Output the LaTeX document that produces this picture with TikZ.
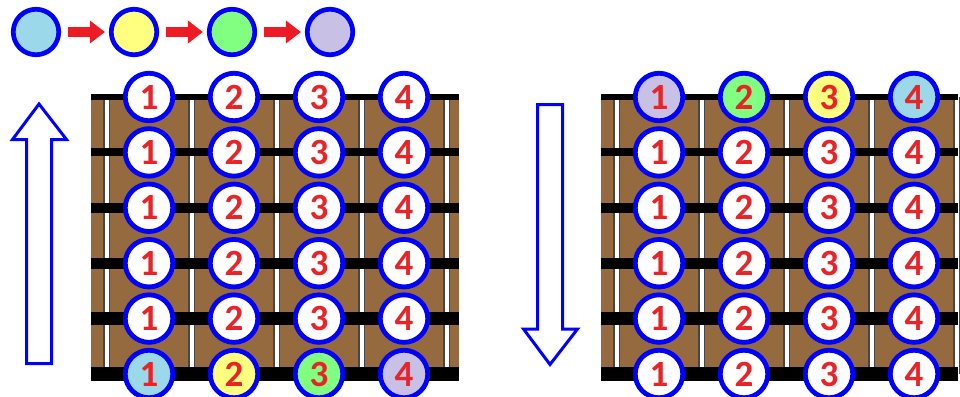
\documentclass[tikz,border=0pt]{standalone}
\usepackage{fontspec}
\setmainfont{Carlito}
\usetikzlibrary{arrows.meta}
\definecolor{cblue}{RGB}{155,216,234}
\definecolor{cyellow}{RGB}{255,255,128}
\definecolor{cgreen}{RGB}{128,255,128}
\definecolor{cpurple}{RGB}{200,193,229}
\definecolor{numred}{RGB}{232,36,40}
\definecolor{arrred}{RGB}{237,28,36}
\definecolor{boardbrown}{RGB}{148,106,62}
\definecolor{fretedge}{RGB}{70,70,70}
\begin{document}
\begin{tikzpicture}[x=1pt,y=-1pt,
  dot/.style={circle, draw=blue, line width=4.8pt, minimum size=47.5pt, inner sep=0pt,
    fill=white, text=numred, font=\fontsize{37}{37}\selectfont\bfseries},
  legdot/.style={circle, draw=blue, line width=4.7pt, minimum size=45.5pt, inner sep=0pt},
  legarrow/.style={draw=arrred, line width=10pt, -{Triangle[length=15pt,width=22pt]}, shorten <=7pt, shorten >=4pt},
  bigarrow/.style={draw=blue, line width=3pt, line join=miter, fill=white},
  stringline/.style={draw=black},
  fretdark/.style={draw=fretedge, line width=7pt},
  fretwhite/.style={draw=white, line width=4pt}
]
\useasboundingbox (0,0) rectangle (960,396);
\clip (0,0) rectangle (960,396);

% legend
\node[legdot, fill=cblue] (g1) at (36,32) {};
\node[legdot, fill=cyellow] (g2) at (134,32) {};
\node[legdot, fill=cgreen] (g3) at (232,32) {};
\node[legdot, fill=cpurple] (g4) at (330,32) {};
\draw[legarrow] (g1) -- (g2);
\draw[legarrow] (g2) -- (g3);
\draw[legarrow] (g3) -- (g4);

% big arrows
\draw[bigarrow] (26.5,363.5) -- (26.5,139.5) -- (12.5,139.5) -- (39,104) -- (66.5,139.5) -- (51.5,139.5) -- (51.5,363.5) -- cycle;
\draw[bigarrow] (537.5,104.5) -- (537.5,329) -- (523.5,329) -- (550,364.5) -- (577.5,329) -- (562.5,329) -- (562.5,104.5) -- cycle;

% fretboards
\foreach \ox/\w in {0/368,510/357}{
  \begin{scope}[xshift=\ox pt]
    \fill[boardbrown] (91,97) rectangle (91+\w,374);
    \foreach \fx in {106.5,191.5,276.5,361.5,446.5}{
      \draw[fretdark] (\fx,97) -- (\fx,374);
      \draw[fretwhite] (\fx,97) -- (\fx,374);
    }
    \foreach \i/\t in {0/6,1/8,2/9.5,3/11,4/12.5,5/14}{
      \draw[stringline, line width=\t pt] (91,{97+55.4*\i}) -- (91+\w,{97+55.4*\i});
    }
  \end{scope}
}

% left board notes
\foreach \r in {0,...,4}{
  \foreach \c in {1,...,4}{
    \node[dot] (L\r\c) at ({149+85*(\c-1)},{97+55.4*\r}) {\raisebox{-2pt}{\c}};
  }
}
\foreach \c/\col in {1/cblue,2/cyellow,3/cgreen,4/cpurple}{
  \node[dot, fill=\col] (L5\c) at ({149+85*(\c-1)},{97+55.4*5}) {\raisebox{-2pt}{\c}};
}

% right board notes
\foreach \c/\col in {1/cpurple,2/cgreen,3/cyellow,4/cblue}{
  \node[dot, fill=\col] (R0\c) at ({659+85*(\c-1)},97) {\raisebox{-2pt}{\c}};
}
\foreach \r in {1,...,5}{
  \foreach \c in {1,...,4}{
    \node[dot] (R\r\c) at ({659+85*(\c-1)},{97+55.4*\r}) {\raisebox{-2pt}{\c}};
  }
}
\end{tikzpicture}
\end{document}
